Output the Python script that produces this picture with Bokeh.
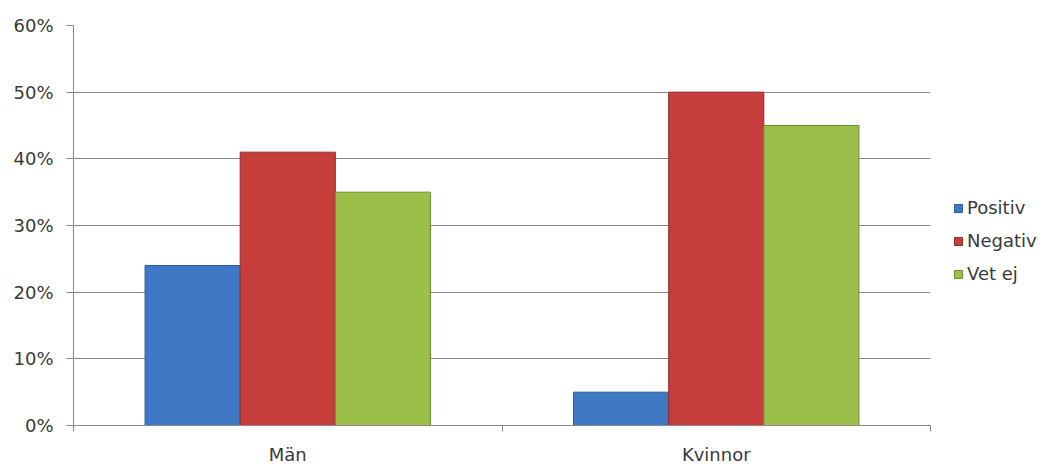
from bokeh.plotting import figure
from bokeh.models import (FactorRange, Range1d, LinearAxis, FixedTicker, Legend,
                          LegendItem, ColumnDataSource)
from bokeh.transform import dodge
from bokeh.embed import file_html
from bokeh.resources import INLINE

categories = ["Män", "Kvinnor"]
series = ["Positiv", "Negativ", "Vet ej"]
positiv = [24, 5]
negativ = [41, 50]
vet_ej = [35, 45]
y_ticks = [0, 10, 20, 30, 40, 50, 60]
y_tick_labels = ["0%", "10%", "20%", "30%", "40%", "50%", "60%"]

fills = ["#3F79C6", "#C63D3B", "#9BBF49"]
lines = ["#2D5C99", "#922D2B", "#6F8C34"]
FONT = "DejaVu Sans"
TXT = "#3a3a3a"
GRID = "#888888"

src = ColumnDataSource(dict(cat=categories, Positiv=positiv, Negativ=negativ, VetEj=vet_ej))

p = figure(x_range=FactorRange(*categories, range_padding=0), y_range=Range1d(0, 60),
           frame_width=857, frame_height=400,
           min_border_left=73, min_border_top=25, min_border_right=121, min_border_bottom=30,
           output_backend="svg", toolbar_location=None, x_axis_location=None,
           y_axis_location=None)
p.outline_line_color = None
p.xgrid.grid_line_color = None

cols = ["Positiv", "Negativ", "VetEj"]
offsets = [-0.222, 0.0, 0.222]
renderers = []
for col, off, fc, lc in zip(cols, offsets, fills, lines):
    r = p.vbar(x=dodge("cat", off, range=p.x_range), top=col, width=0.222, source=src,
               fill_color=fc, line_color=lc, line_width=1)
    renderers.append(r)

yaxis = LinearAxis(ticker=FixedTicker(ticks=y_ticks, minor_ticks=[]),
                   major_label_overrides={t: l for t, l in zip(y_ticks, y_tick_labels)})
yaxis.axis_line_color = GRID
yaxis.major_tick_line_color = GRID
yaxis.major_tick_out = 7
yaxis.major_tick_in = 0
yaxis.major_label_standoff = 13
yaxis.major_label_text_font = FONT
yaxis.major_label_text_font_size = "18px"
yaxis.major_label_text_color = TXT
p.add_layout(yaxis, "left")

p.ygrid.ticker = FixedTicker(ticks=y_ticks)
p.ygrid.grid_line_color = GRID

xaxis = LinearAxis(ticker=FixedTicker(ticks=[0.5, 1.5], minor_ticks=[0, 1, 2]),
                   major_label_overrides={0.5: categories[0], 1.5: categories[1]})
xaxis.axis_line_color = GRID
xaxis.major_tick_line_color = None
xaxis.major_tick_out = 0
xaxis.major_tick_in = 0
xaxis.minor_tick_line_color = GRID
xaxis.minor_tick_out = 6
xaxis.minor_tick_in = 0
xaxis.major_label_standoff = 12
xaxis.major_label_text_font = FONT
xaxis.major_label_text_font_size = "18px"
xaxis.major_label_text_color = TXT
p.add_layout(xaxis, "below")

legend = Legend(items=[LegendItem(label=s, renderers=[r]) for s, r in zip(series, renderers)],
                location=(23, 141), glyph_width=10, glyph_height=10, label_standoff=4,
                spacing=12, padding=0, margin=0, border_line_color=None,
                background_fill_alpha=0, label_text_font=FONT, label_text_font_size="18px",
                label_text_color=TXT)
p.add_layout(legend, "right")

open("out.html", "w").write(file_html(p, INLINE))
